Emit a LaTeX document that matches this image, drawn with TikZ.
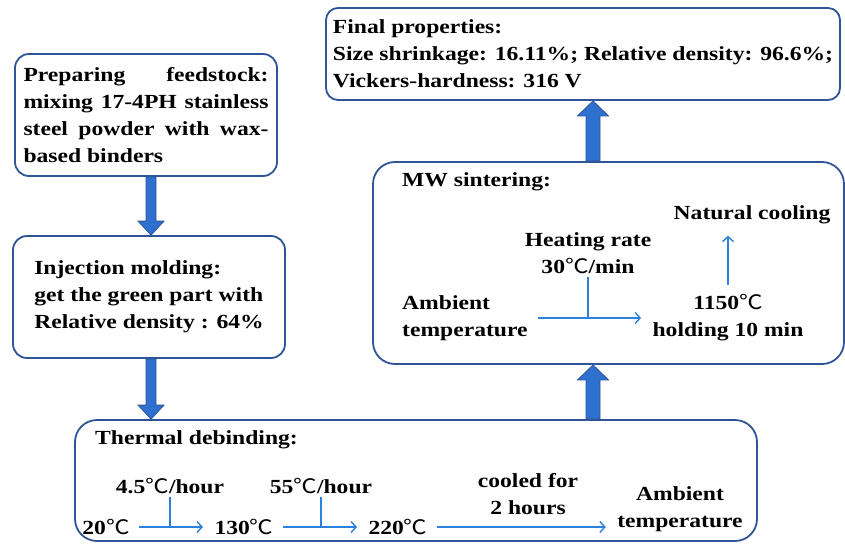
\documentclass[tikz,border=0pt]{standalone}
\usepackage{fontspec}
\setmainfont{Liberation Serif}[FakeStretch=1.18]
\newfontfamily\cjk{Noto Sans CJK SC}[FakeStretch=1.18]
\usetikzlibrary{arrows.meta,calc,positioning}
\definecolor{boxblue}{RGB}{47,85,151}
\definecolor{lineblue}{RGB}{46,128,222}
\definecolor{fatblue}{RGB}{45,112,208}
\newcommand{\degc}{{\cjk\mdseries ℃}}

\begin{document}
\begin{tikzpicture}[x=1pt,y=-1pt,
  every node/.style={font=\fontsize{20}{27}\selectfont\bfseries},
  box/.style={draw=boxblue, line width=1.8pt, rounded corners=14pt, fill=white},
  bigbox/.style={box, rounded corners=22pt},
  flow/.style={draw=lineblue, line width=1.4pt, shorten <=6pt, shorten >=8pt,
    -{Straight Barb[length=5pt,width=11pt]}},
  tick/.style={draw=lineblue, line width=1.4pt},
  fatarrow/.style={draw=boxblue, fill=fatblue, line width=0.8pt}]
\useasboundingbox (0,0) rectangle (845,543);

% left column
\node[box, minimum width=262, minimum height=122, text width=245, align=justify] (prep) at (146,115)
  {\tolerance=9999 Preparing feedstock:\linebreak mixing 17-4PH stainless\linebreak steel powder with wax-\linebreak based binders};
\node[box, minimum width=272, minimum height=122, align=left] (inj) at (149,297)
  {Injection molding:\\get the green part with\\Relative density : 64\%};

% big boxes
\node[bigbox, minimum width=682, minimum height=121] (debind) at (416,480.5) {};
\node[bigbox, minimum width=471, minimum height=202] (mw) at (608.5,263) {};
\node[box, rounded corners=12pt, minimum width=514, minimum height=92, align=left] (final) at (583,54)
  {Final properties:\\Size shrinkage: 16.11\%; Relative density: 96.6\%;\\Vickers-hardness: 316 V};

% thermal debinding
\node[anchor=west, inner sep=0] (debtitle) at (95,440) {Thermal debinding:};
\node (t20) at (106,527) {20\degc};
\node (t130) at (244,527) {130\degc};
\node (t220) at (398,527) {220\degc};
\node[align=center] (amb2) at (680,509) {Ambient\\temperature};
\node (rate1) at (170,486) {4.5\degc/hour};
\node (rate2) at (321,486) {55\degc/hour};
\node[align=center] (cooled) at (528,494) {cooled for\\2 hours};
\draw[flow] (t20) -- (t130);
\draw[flow] (t130) -- (t220);
\draw[flow] (t220.east) -- (t220.east -| amb2.west);
\draw[tick] (rate1.south) -- (rate1.south |- t20.east);
\draw[tick] (rate2.south) -- (rate2.south |- t130.east);

% MW sintering
\node[anchor=west, inner sep=0] (mwtitle) at (402,182) {MW sintering:};
\node[align=left, anchor=west, inner sep=4pt] (amb1) at (398,318) {Ambient\\temperature};
\node[align=center] (hold) at (728,318) {1150\degc\\holding 10 min};
\node[align=center] (rate) at (588,253) {Heating rate\\30\degc/min};
\node (cool) at (752,215) {Natural cooling};
\draw[flow] (amb1.east) -- (amb1.east -| hold.west);
\draw[tick] (rate.south) -- (rate.south |- amb1.east);
\draw[flow] (hold.north) -- (hold.north |- cool.south);

% fat arrows between the stages
\coordinate (lx) at (151,0);
\coordinate (rx) at (593,0);
\coordinate (a1s) at (lx |- prep.south);
\coordinate (a1e) at (lx |- inj.north);
\coordinate (a2s) at (lx |- inj.south);
\coordinate (a2e) at (lx |- debind.north);
\coordinate (a3s) at (rx |- debind.north);
\coordinate (a3e) at (rx |- mw.south);
\coordinate (a4s) at (rx |- mw.north);
\coordinate (a4e) at (rx |- final.south);
\foreach \from/\to/\sw/\hw/\hl in {a1s/a1e/5/13/-14, a2s/a2e/5/13/-14, a3s/a3e/7/15.5/15, a4s/a4e/7/15.5/15}
  \draw[fatarrow] ($(\from)+(-\sw,0)$) -- ($(\to)+(-\sw,\hl)$) -- ($(\to)+(-\hw,\hl)$) -- (\to)
    -- ($(\to)+(\hw,\hl)$) -- ($(\to)+(\sw,\hl)$) -- ($(\from)+(\sw,0)$) -- cycle;
\end{tikzpicture}
\end{document}
